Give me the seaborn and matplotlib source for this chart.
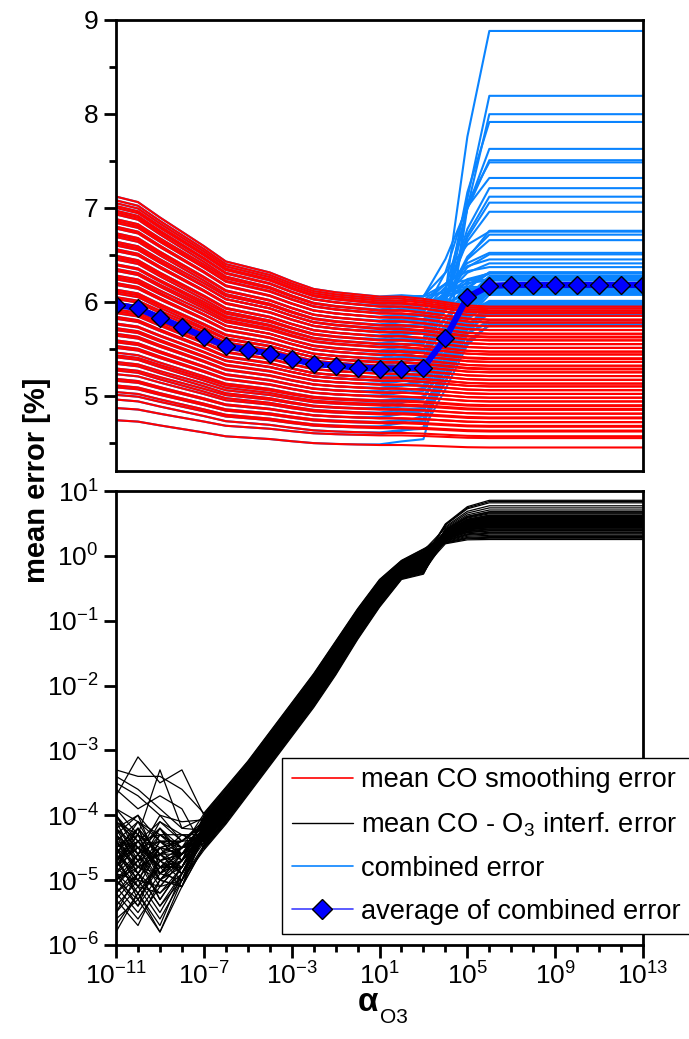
import numpy as np
import pandas as pd
import matplotlib
matplotlib.use('Agg')
import matplotlib.pyplot as plt
import seaborn as sns
from matplotlib.lines import Line2D
from matplotlib.ticker import MultipleLocator, NullFormatter, LogFormatterMathtext

sns.set_style('ticks')
plt.rcParams['font.family'] = ['Liberation Sans', 'DejaVu Sans']
plt.rcParams['mathtext.fontset'] = 'custom'
plt.rcParams['mathtext.rm'] = 'Liberation Sans'
plt.rcParams['mathtext.it'] = 'Liberation Sans:italic'
plt.rcParams['mathtext.bf'] = 'Liberation Sans:bold'
plt.rcParams.update({'text.color': 'black', 'axes.labelcolor': 'black',
                     'xtick.color': 'black', 'ytick.color': 'black'})

# x grid: one point per decade of alpha_O3
alpha_exp = list(range(-11, 14))

# average of combined error (blue diamonds)
avg_combined = [5.97, 5.93, 5.83, 5.73, 5.63, 5.53, 5.49, 5.45, 5.39, 5.34, 5.32, 5.30, 5.29,
                5.29, 5.30, 5.61, 6.05, 6.17, 6.18, 6.18, 6.18, 6.18, 6.18, 6.18, 6.18]

# smoothing error curves: level at 1e-11, level at 1e13 and common decay profile
red_start = [4.74, 4.87, 4.96, 5.01, 5.04, 5.09, 5.11, 5.16, 5.18, 5.23,
             5.27, 5.29, 5.34, 5.36, 5.41, 5.43, 5.46, 5.51, 5.53, 5.57,
             5.59, 5.64, 5.66, 5.70, 5.72, 5.76, 5.77, 5.82, 5.84, 5.88,
             5.90, 5.92, 5.97, 5.99, 6.03, 6.05, 6.09, 6.11, 6.13, 6.18,
             6.20, 6.24, 6.26, 6.28, 6.33, 6.35, 6.39, 6.40, 6.45, 6.47,
             6.49, 6.54, 6.56, 6.60, 6.62, 6.64, 6.69, 6.71, 6.73, 6.78,
             6.80, 6.84, 6.86, 6.88, 6.93, 6.95, 6.97, 7.00, 7.02, 7.05,
             7.08, 7.12]
red_end = [4.45, 4.55, 4.57, 4.62, 4.63, 4.67, 4.68, 4.72, 4.72, 4.76,
           4.77, 4.81, 4.81, 4.85, 4.86, 4.89, 4.90, 4.94, 4.94, 4.98,
           4.98, 5.02, 5.02, 5.06, 5.06, 5.10, 5.10, 5.13, 5.13, 5.17,
           5.17, 5.21, 5.21, 5.25, 5.25, 5.29, 5.28, 5.32, 5.32, 5.36,
           5.36, 5.40, 5.39, 5.44, 5.44, 5.47, 5.47, 5.51, 5.51, 5.55,
           5.55, 5.59, 5.59, 5.63, 5.62, 5.66, 5.66, 5.70, 5.70, 5.74,
           5.74, 5.78, 5.78, 5.81, 5.81, 5.85, 5.85, 5.88, 5.89, 5.91,
           5.93, 5.95]
red_shape = [0, 0.05, 0.19, 0.32, 0.45, 0.59, 0.64, 0.69, 0.77, 0.84, 0.87, 0.89, 0.91,
             0.91, 0.93, 0.96, 0.99, 1, 1, 1, 1, 1, 1, 1, 1]

# interference error: log10 band edges for 1e-7 ... 1e13
black_lo = [-4.55, -4.15, -3.70, -3.25, -2.80, -2.35, -1.85, -1.30, -0.80, -0.37,
            -0.29, 0.17, 0.22, 0.22, 0.22, 0.22, 0.22, 0.22, 0.22, 0.22, 0.22]
black_hi = [-3.95, -3.55, -3.15, -2.70, -2.25, -1.80, -1.30, -0.80, -0.35, -0.06,
            0.12, 0.50, 0.77, 0.87, 0.87, 0.87, 0.87, 0.87, 0.87, 0.87, 0.87]
# position of each curve inside the band (rising part / saturated part)
black_mid_pos = [0.45, 0.62, 0.30, 0.85, 0.52, 0.40, 0.15, 0.70, 0.58, 0.35,
                 0.48, 0.92, 0.26, 0.55, 0.66, 0.42, 0.08, 0.74, 0.50, 0.38,
                 0.97, 0.60, 0.33, 0.78, 0.46, 0.22, 0.64, 0.53, 0.12, 0.81,
                 0.44, 0.57, 0.28, 0.69, 0.36, 0.90, 0.49, 0.18, 0.73, 0.41,
                 0.61, 0.05, 0.83, 0.54, 0.31, 0.67, 0.47, 0.24, 0.76, 0.39,
                 0.59, 0.14, 0.87, 0.51, 0.34, 0.71, 0.43, 0.20, 0.65, 0.56,
                 0.29, 0.80, 0.48, 0.10, 0.68, 0.37, 0.95, 0.52, 0.25, 0.63,
                 0.45, 0.02]
black_end_pos = [0.95, 0.92, 0.50, 0.56, 0.53, 0.58, 0.47, 0.60, 0.52, 0.55,
                 0.44, 0.57, 0.50, 0.58, 0.46, 0.53, 0.42, 0.56, 0.48, 0.51,
                 0.38, 0.54, 0.45, 0.49, 0.40, 0.47, 0.43, 0.52, 0.36, 0.46,
                 0.41, 0.98, 0.38, 0.85, 0.44, 0.80, 0.33, 0.42, 0.48, 0.30,
                 0.37, 0.45, 0.60, 0.68, 0.70, 0.66, 0.34, 0.75, 0.41, 0.55,
                 0.62, 0.28, 0.52, 0.36, 0.22, 0.44, 0.25, 0.38, 0.18, 0.71,
                 0.30, 0.15, 0.40, 0.20, 0.12, 0.33, 0.08, 0.26, 0.05, 0.45,
                 0.10, 0.63]
# log10 of interference error at 1e-11, 1e-10, 1e-9, 1e-8 (noisy part)
black_noise = [
    [-4.6, -4.9, -4.4, -4.7], [-5.1, -4.7, -5.3, -4.8], [-4.2, -4.5, -4.8, -4.6], [-3.4, -3.6, -3.9, -4.2],
    [-4.9, -5.4, -4.6, -4.9], [-4.4, -4.1, -4.7, -4.5], [-5.5, -5.1, -5.6, -5.0], [-4.7, -4.3, -4.5, -4.4],
    [-4.0, -4.6, -4.2, -4.6], [-5.2, -4.8, -5.0, -4.8], [-4.5, -5.0, -4.4, -4.7], [-3.7, -3.1, -3.5, -3.3],
    [-4.8, -4.4, -4.9, -4.5], [-5.0, -5.3, -4.8, -5.1], [-4.3, -4.7, -4.1, -4.4], [-4.6, -4.2, -4.6, -4.3],
    [-5.7, -5.2, -5.8, -5.0], [-4.1, -4.4, -4.3, -4.6], [-4.9, -4.6, -5.1, -4.7], [-4.4, -4.9, -4.5, -4.9],
    [-3.3, -3.4, -3.4, -3.6], [-5.3, -4.9, -5.2, -4.8], [-4.7, -5.2, -4.7, -5.0], [-4.2, -4.0, -4.4, -4.4],
    [-4.8, -4.5, -5.0, -4.6], [-5.0, -4.7, -4.6, -4.9], [-4.5, -4.8, -4.9, -4.5], [-3.9, -4.3, -3.3, -4.2],
    [-5.1, -5.5, -5.0, -5.1], [-4.6, -4.4, -4.8, -4.7], [-4.3, -4.9, -4.3, -4.5], [-5.4, -5.0, -5.5, -4.9],
    [-4.7, -4.2, -4.6, -4.6], [-4.1, -4.7, -4.5, -4.4], [-4.9, -5.2, -4.8, -4.8], [-4.4, -4.5, -4.2, -4.7],
    [-5.8, -5.2, -5.7, -4.9], [-4.6, -4.1, -4.4, -4.5], [-4.0, -4.5, -4.7, -4.6], [-5.0, -4.6, -5.3, -4.8],
    [-4.5, -5.1, -4.5, -4.6], [-3.6, -3.9, -3.7, -3.9], [-4.8, -4.3, -4.9, -4.7], [-5.2, -5.6, -5.1, -5.0],
    [-4.3, -4.6, -4.0, -4.4], [-4.7, -4.4, -4.8, -4.8], [-4.9, -5.0, -4.5, -4.6], [-4.2, -4.8, -4.6, -4.5],
    [-5.5, -4.9, -5.4, -5.0], [-4.5, -4.2, -4.9, -4.6], [-4.6, -5.3, -4.7, -4.9], [-3.9, -4.1, -4.3, -4.3],
    [-5.1, -4.6, -5.0, -4.7], [-4.4, -4.8, -4.2, -4.5], [-4.8, -5.1, -5.2, -4.9], [-4.1, -4.3, -4.6, -4.4],
    [-5.3, -5.7, -5.0, -5.1], [-4.7, -4.5, -4.4, -4.6], [-4.3, -4.0, -4.8, -4.5], [-5.0, -4.8, -4.6, -4.8],
    [-4.6, -5.0, -5.1, -4.7], [-3.5, -3.7, -4.0, -4.1], [-4.9, -4.4, -4.7, -4.6], [-5.6, -5.3, -5.8, -5.1],
    [-4.2, -4.6, -4.4, -4.4], [-4.8, -4.2, -4.9, -4.7], [-4.4, -4.7, -4.3, -4.5], [-5.2, -4.9, -5.4, -4.9],
    [-4.0, -4.4, -4.1, -4.3], [-4.7, -5.1, -4.8, -4.8], [-4.5, -4.3, -5.0, -4.6], [-5.0, -5.4, -4.9, -5.0],
]

RED = '#ff0000'
BLUE = '#0a84ff'
AVG = '#0000ff'

# assemble curves
alpha = 10.0 ** np.array(alpha_exp, dtype=float)
rs, re_ = np.array(red_start), np.array(red_end)
red = rs[:, None] + (re_ - rs)[:, None] * np.array(red_shape)[None, :]

lo, hi = np.array(black_lo), np.array(black_hi)
mid = np.array(black_mid_pos)[:, None]
end = np.array(black_end_pos)[:, None]
band_mid = lo[None, :11] + (hi - lo)[None, :11] * mid
band_end = lo[None, 11:] + (hi - lo)[None, 11:] * end
black = 10.0 ** np.hstack([np.array(black_noise), band_mid, band_end])
combined = np.sqrt(red ** 2 + black ** 2)


def long_frame(values):
    n_lines, n_x = values.shape
    return pd.DataFrame({'alpha': np.tile(alpha, n_lines),
                         'value': values.ravel(),
                         'line': np.repeat(np.arange(n_lines), n_x)})


fig = plt.figure(figsize=(6.89, 10.39), dpi=100)
ax1 = fig.add_axes([0.1684, 0.5467, 0.7649, 0.4341])
ax2 = fig.add_axes([0.1684, 0.0905, 0.7649, 0.4369])
for ax in (ax1, ax2):
    ax.set_xscale('log')

# top panel
sns.lineplot(data=long_frame(combined), x='alpha', y='value', units='line', estimator=None,
             color=BLUE, lw=1.5, ax=ax1, legend=False)
sns.lineplot(data=long_frame(red), x='alpha', y='value', units='line', estimator=None,
             color=RED, lw=1.5, ax=ax1, legend=False)
sns.lineplot(x=alpha, y=avg_combined, color=AVG, lw=4.5, marker='D', markersize=9,
             markerfacecolor=AVG, markeredgecolor='black', markeredgewidth=1, ax=ax1)
ax1.set_xlim(1e-11, 1e13)
ax1.set_ylim(4.2, 9)
ax1.yaxis.set_major_locator(MultipleLocator(1))
ax1.yaxis.set_minor_locator(MultipleLocator(0.5))
ax1.tick_params(axis='x', which='both', bottom=False, labelbottom=False)

# bottom panel
sns.lineplot(data=long_frame(black), x='alpha', y='value', units='line', estimator=None,
             color='black', lw=0.9, ax=ax2, legend=False)
ax2.set_yscale('log')
ax2.set_xlim(1e-11, 1e13)
ax2.set_ylim(1e-6, 1e1)
ax2.set_yticks(10.0 ** np.arange(-6, 2))
ax2.yaxis.set_major_formatter(LogFormatterMathtext())
ax2.yaxis.set_minor_formatter(NullFormatter())
ax2.tick_params(axis='y', which='minor', left=False)
ax2.set_xticks(10.0 ** np.arange(-11, 14, 4))
ax2.set_xticks(alpha, minor=True)
ax2.xaxis.set_major_formatter(LogFormatterMathtext())
ax2.xaxis.set_minor_formatter(NullFormatter())

for ax in (ax1, ax2):
    ax.set_xlabel('')
    ax.set_ylabel('')
    for s in ax.spines.values():
        s.set_visible(True)
        s.set_linewidth(2)
        s.set_color('black')
    ax.tick_params(which='major', direction='out', length=9, width=2, labelsize=19, colors='black')
    ax.tick_params(which='minor', direction='out', length=5, width=2)
    ax.tick_params(right=False, top=False, which='both')

handles = [Line2D([], [], color=RED, lw=1.2),
           Line2D([], [], color='black', lw=1.0),
           Line2D([], [], color=BLUE, lw=1.2),
           Line2D([], [], color='#4040ff', lw=1.2, marker='D', markersize=10,
                  markerfacecolor=AVG, markeredgecolor='black')]
labels = ['mean CO smoothing error', 'mean CO - O$_3$ interf. error',
          'combined error', 'average of combined error']
leg = ax2.legend(handles, labels, loc='lower left', bbox_to_anchor=(0.315, 0.024),
                 borderaxespad=0, fontsize=19.6, frameon=True, fancybox=False, framealpha=1,
                 edgecolor='black', handlelength=2.25, handletextpad=0.3, labelspacing=0.62,
                 borderpad=0.35)
leg.get_frame().set_linewidth(1.0)
leg.set_zorder(10)

fig.text(0.054, 0.538, 'mean error [%]', rotation=90, fontsize=21, fontweight='bold',
         ha='center', va='center')
fig.text(0.534, 0.035, 'α', fontsize=24, fontweight='bold', ha='center', va='center')
fig.text(0.551, 0.021, 'O3', fontsize=15, ha='left', va='center')

fig.savefig('out.png', dpi=100)
